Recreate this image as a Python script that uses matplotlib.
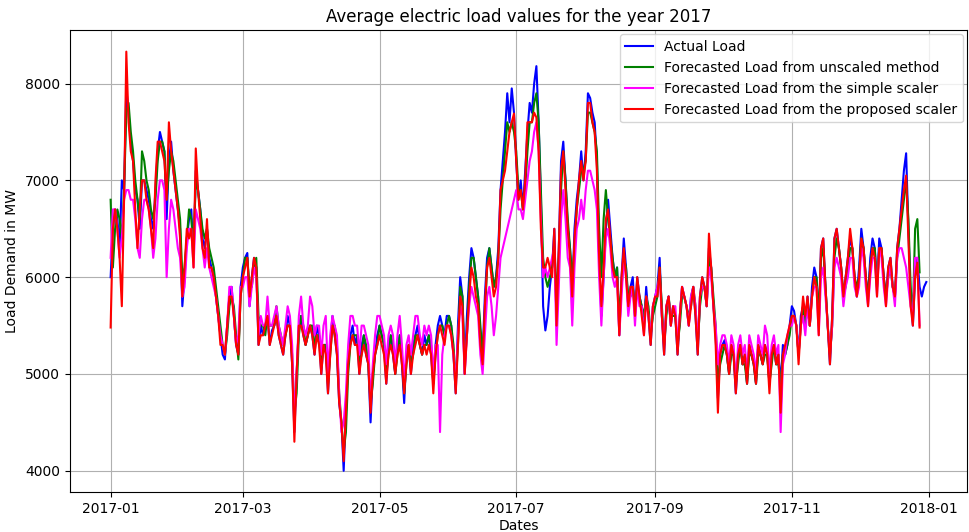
import matplotlib
matplotlib.use("Agg")
import matplotlib.pyplot as plt
import pandas as pd

actual = [
6000,6500,6700,6600,6300,7000,6900,7950,7700,7400,7200,6900,6800,6500,7000,7000,6900,6800,6600,6500,6900,7300,7500,7400,7300,6600,7200,7400,7100,6900,6700,
6500,5700,6000,6400,6600,6700,6200,7100,6900,6700,6400,6300,6500,6200,6100,6000,5800,5600,5400,5200,5150,5500,5800,5900,5600,5300,5200,5900,
6100,6200,6250,5700,6000,6200,6100,5300,5500,5400,5500,5600,5300,5450,5500,5600,5400,5300,5200,5400,5600,5500,5100,4400,5000,5500,5600,5400,5300,5400,5500,
5400,5200,5500,5400,5000,5300,5300,4800,5300,5600,5400,5200,4700,4500,4000,4600,5200,5400,5500,5300,5400,5000,5300,5400,5200,5100,4500,5000,5200,5400,
5500,5400,5300,4900,5300,5400,5200,5000,5300,5400,5100,4700,5200,5300,5000,5300,5400,5500,5300,5200,5400,5300,5400,5200,4900,5300,5500,5600,5500,5400,5600,
5600,5500,5200,4800,5500,6000,5800,5000,5600,6000,6300,6200,6000,5800,5400,5200,5800,6200,6300,6100,5900,6000,6300,6900,7200,7500,7900,7600,7950,7700,
7200,6800,7000,6700,7100,7500,7800,7700,8000,8180,7600,6800,5700,5450,5600,5900,6100,6500,5500,6300,7200,7400,7000,6500,6300,5800,6500,6800,7000,7300,7000,
7300,7900,7850,7700,7600,7200,6200,5600,6000,6500,6800,6500,6200,6000,6100,5400,6000,6400,6100,5700,5900,6000,5600,6000,5800,5700,5500,5900,5600,5300,5700,
5800,5900,6200,5600,5200,5700,5800,5500,5700,5600,5200,5600,5900,5800,5700,5500,5800,5900,5600,5200,5800,6000,5900,5700,6300,6100,5700,5400,4750,5200,
5300,5350,5200,5000,5300,5200,4800,5200,5300,5100,5200,4900,5300,5200,5100,4900,5300,5200,5100,5300,5200,4900,5200,5300,5100,5200,4900,5300,5200,5300,5500,
5700,5650,5500,5200,5600,5700,5500,5800,5500,5900,6100,6000,5500,6300,6400,5900,5500,5100,5600,6400,6500,6300,6100,5800,6000,6200,6400,6300,6000,5800,
6100,6500,6300,6000,5800,6200,6400,6300,5900,6400,6300,6000,5800,6100,6200,5900,5800,6300,6500,6800,7100,7280,6500,5800,5500,6000,6200,5900,5800,5900,5950]

unscaled = [
6800,6100,6500,6700,6600,6400,6900,7700,7800,7500,7300,7000,6800,6600,7300,7200,7000,6900,6700,6600,6800,7200,7400,7400,7300,6800,7100,7300,7200,7000,6800,
6600,6000,6100,6400,6700,6600,6300,7000,6900,6700,6500,6400,6500,6300,6200,6100,5900,5700,5500,5300,5200,5400,5700,5800,5700,5400,5150,5800,
6000,6200,6200,5900,5900,6100,6200,5600,5500,5500,5400,5600,5500,5500,5500,5700,5500,5400,5300,5400,5500,5500,5200,4600,4800,5400,5600,5500,5300,5400,5500,
5500,5300,5400,5400,5100,5300,5300,4900,5200,5500,5500,5300,4800,4500,4200,4400,5000,5300,5400,5400,5400,5100,5200,5400,5300,5100,4700,4900,5200,5300,
5500,5400,5300,5000,5200,5400,5300,5000,5200,5400,5200,4800,5100,5300,5100,5200,5400,5400,5300,5200,5300,5300,5400,5300,4900,5200,5400,5500,5500,5400,5500,
5600,5500,5300,4900,5300,5900,5800,5100,5400,5900,6200,6200,6000,5800,5500,5200,5600,6100,6300,6100,5900,6000,6200,6700,7000,7300,7600,7500,7600,7500,
7300,6900,6900,6700,6900,7300,7600,7600,7800,7900,7600,6900,6200,6000,5900,6000,6100,6300,5800,6200,6900,7300,7000,6600,6300,6000,6300,6700,6900,7100,7100,
7200,7700,7700,7600,7500,7300,6500,6000,6600,6900,6600,6400,6200,6000,6100,5600,5900,6200,6100,5800,5800,5900,5700,5900,5800,5700,5600,5800,5700,5400,5600,
5700,5800,6100,5700,5300,5600,5800,5600,5600,5600,5300,5500,5800,5800,5700,5600,5700,5900,5700,5300,5700,5900,5900,5700,6200,6100,5800,5500,4900,5100,
5200,5300,5200,5000,5200,5200,4900,5100,5300,5100,5100,4900,5200,5200,5100,4900,5200,5200,5100,5200,5200,4900,5100,5300,5100,5100,4900,5200,5200,5300,5400,
5600,5600,5500,5200,5500,5700,5500,5700,5500,5800,6000,6000,5600,6200,6300,5900,5500,5200,5500,6200,6400,6300,6100,5800,5900,6100,6300,6300,6000,5900,
6000,6400,6300,6000,5800,6100,6300,6300,5900,6300,6300,6000,5800,6000,6100,5900,5800,6200,6400,6600,6800,7000,6600,5900,5600,6500,6600,6050]

simple = [
6200,6700,6700,6500,6200,6400,6800,6900,6900,6800,6800,6600,6300,6200,6600,6800,6800,6700,6500,6200,6400,6800,7000,7000,6900,6000,6500,6800,6700,6500,6300,
6200,5800,5900,6300,6500,6500,6100,6700,6600,6500,6300,6100,6300,6100,6000,5900,5800,5600,5400,5300,5200,5500,5900,5900,5600,5300,5400,5900,
5900,6000,6000,5700,5900,6100,6000,5400,5600,5500,5500,5800,5500,5500,5600,5700,5500,5400,5300,5500,5700,5600,5300,4500,5000,5600,5800,5500,5400,5500,5800,
5700,5400,5500,5500,5200,5500,5600,5000,5400,5600,5500,5400,4800,4400,4500,4800,5300,5600,5600,5500,5500,5200,5500,5500,5400,5300,4700,5100,5400,5600,
5600,5500,5400,5100,5400,5500,5400,5100,5400,5600,5300,4900,5300,5400,5200,5400,5600,5600,5400,5300,5500,5400,5500,5400,5000,5300,5300,4400,5200,5400,5500,
5500,5400,5200,4900,5400,5700,5600,5000,5400,5700,5900,5800,5700,5600,5200,5000,5400,5800,5900,5700,5400,5600,5900,6200,6300,6400,6500,6600,6700,6800,
6900,6700,6700,6600,6800,7000,7200,7300,7500,7600,7300,6600,6000,6100,6000,6100,6200,6300,5300,5900,6600,6900,6600,6200,6100,5500,6100,6500,6600,6800,6600,
6900,7100,7100,7000,6900,6700,6000,5500,6000,6400,6500,6300,6000,5900,6000,5400,5800,6200,6000,5600,5800,5900,5500,5900,5700,5700,5400,5800,5600,5400,5700,
5800,5900,6000,5600,5300,5700,5800,5500,5700,5700,5300,5600,5900,5800,5700,5500,5800,5900,5700,5300,5800,5900,5900,5700,6100,6000,5700,5500,5100,5300,
5400,5400,5300,5100,5400,5300,4900,5300,5400,5200,5300,5000,5400,5300,5200,5000,5400,5300,5200,5500,5400,5000,5300,5400,5200,5300,4400,5100,5200,5400,5500,
5500,5600,5500,5200,5500,5600,5400,5700,5500,5800,5900,5900,5400,6000,6100,5800,5500,5200,5500,6100,6200,6100,6000,5700,5900,6000,6200,6200,5900,5800,
5900,6300,6200,5900,5700,6000,6200,6200,5800,6300,6200,5900,5700,6000,6100,5900,5700,6200,6300,6300,6200,6100,5900,5700,5600,6200,6200,5500]

proposed = [
5480,6500,6700,6500,6200,5700,6800,8330,7600,7300,7200,6700,6300,6700,7000,7000,6800,6700,6500,6300,7000,7400,7400,7300,7200,6800,7600,7300,7100,6900,6700,
6400,5800,6100,6500,6400,6500,6100,7330,6900,6600,6300,6200,6600,6100,6100,6000,5800,5600,5300,5300,5200,5500,5800,5800,5600,5300,5200,5800,
6000,6100,6200,5800,6000,6200,6100,5300,5400,5400,5500,5600,5300,5400,5500,5600,5400,5300,5200,5400,5500,5500,5100,4300,5000,5500,5500,5400,5300,5400,5500,
5400,5200,5400,5300,5000,5300,5200,4800,5200,5500,5400,5200,4700,4500,4100,4600,5100,5300,5400,5300,5300,5000,5200,5300,5200,5100,4600,5000,5200,5300,
5400,5300,5200,4900,5200,5300,5200,5000,5200,5300,5100,4800,5100,5300,5000,5200,5300,5400,5300,5200,5300,5200,5300,5200,4800,5200,5400,5500,5400,5300,5500,
5500,5400,5200,4800,5300,5800,5700,5000,5400,5800,6100,6000,5800,5700,5300,5100,5700,6100,6200,6000,5800,5900,6200,6900,7000,7100,7300,7500,7600,7690,
7200,6800,6900,6700,7000,7600,7600,7600,7700,7650,7300,6500,6100,6100,6200,6100,6000,6500,5500,6300,7100,7300,6900,6500,6200,5800,6400,6700,7000,7200,7000,
7200,7800,7800,7600,7500,7100,6200,5700,6100,6600,6700,6400,6100,6000,6000,5400,6000,6300,6000,5700,5900,5900,5600,6000,5800,5600,5400,5800,5600,5300,5700,
5800,5800,6100,5600,5200,5700,5800,5500,5700,5600,5200,5600,5900,5800,5700,5500,5700,5900,5600,5200,5800,6000,5900,5700,6450,6100,5700,5300,4600,5200,
5300,5300,5200,5000,5300,5200,4800,5200,5300,5100,5200,4900,5300,5200,5100,4900,5300,5200,5100,5300,5200,4800,5200,5300,5100,5200,4600,5200,5300,5400,5500,
5600,5600,5500,5100,5500,5800,5600,5800,5500,5800,6000,5900,5400,6300,6400,5900,5500,5100,5600,6400,6500,6300,6100,5800,6000,6200,6500,6300,6000,5800,
6000,6400,6300,6000,5700,6100,6300,6200,5800,6300,6300,6000,5700,6100,6200,5900,5800,6300,6500,6700,6900,7050,6400,5700,5500,6000,6150,5480]

series = [("Actual Load", actual, "blue"),
          ("Forecasted Load from unscaled method", unscaled, "green"),
          ("Forecasted Load from the simple scaler", simple, "magenta"),
          ("Forecasted Load from the proposed scaler", proposed, "red")]

fig = plt.figure(figsize=(9.7, 5.32), dpi=100)
ax = fig.add_axes([0.072, 0.075, 0.925, 0.868])
for name, vals, c in series:
    d = pd.date_range("2017-01-01", periods=len(vals), freq="D")
    ax.plot(d, vals, color=c, label=name, linewidth=1.5)
ax.set_title("Average electric load values for the year 2017")
ax.set_xlabel("Dates", labelpad=2)
ax.set_ylabel("Load Demand in MW")
ax.set_yticks([4000, 5000, 6000, 7000, 8000])
ax.set_ylim(3780, 8550)
ax.grid(True)
ax.legend(loc="upper right", borderaxespad=0.3)
fig.savefig("out.png")
